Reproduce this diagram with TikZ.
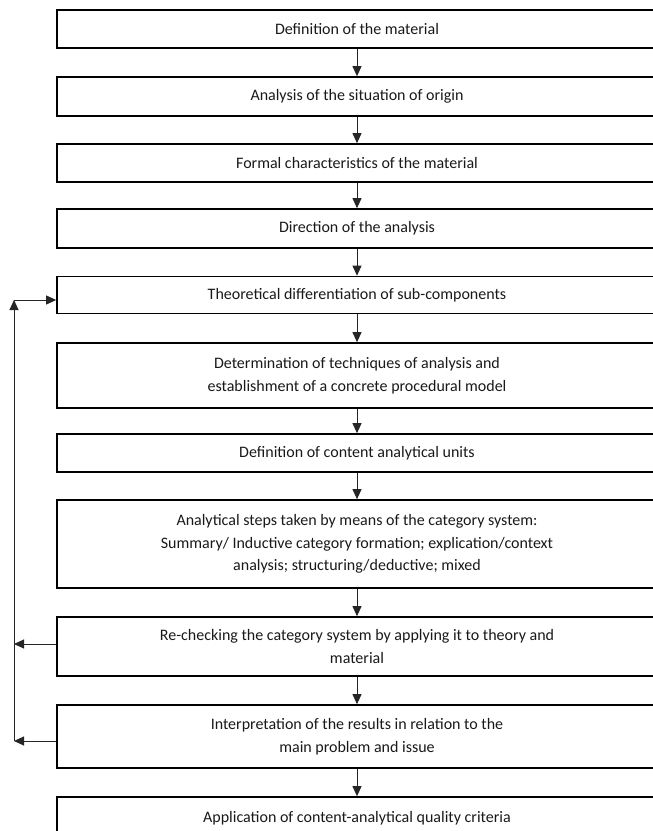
\documentclass[tikz,border=0pt]{standalone}
\usepackage{fontspec}
\setmainfont{Carlito}
\usetikzlibrary{arrows.meta}
\begin{document}
\begin{tikzpicture}[x=1pt,y=-1pt,
  box/.style={draw=black, line width=1.7pt, minimum width=600pt, align=center,
    inner sep=0pt, text=black!90, font=\fontsize{16}{22.5}\selectfont},
  arr/.style={draw=black!85, line width=1pt, -{Triangle[length=10pt,width=9pt]}},
  ln/.style={draw=black!85, line width=1pt}]
\useasboundingbox (0,0) rectangle (653,831);
\clip (0,0) rectangle (653,831);
\node[box, minimum height=38pt] (b1) at (357,29) {Definition of the material};
\node[box, minimum height=39pt] (b2) at (357,96.5) {Analysis of the situation of origin};
\node[box, minimum height=38pt] (b3) at (357,163) {Formal characteristics of the material};
\node[box, minimum height=39pt] (b4) at (357,228.5) {Direction of the analysis};
\node[box, minimum height=37pt] (b5) at (357,295) {Theoretical differentiation of sub-components};
\node[box, minimum height=65pt] (b6) at (357,375.5) {Determination of techniques of analysis and\\establishment of a concrete procedural model};
\node[box, minimum height=38pt] (b7) at (357,453) {Definition of content analytical units};
\node[box, minimum height=88pt] (b8) at (357,544) {Analytical steps taken by means of the category system:\\Summary/ Inductive category formation; explication/context\\analysis; structuring/deductive; mixed};
\node[box, minimum height=59pt] (b9) at (357,646.5) {Re-checking the category system by applying it to theory and\\material};
\node[box, minimum height=63pt] (b10) at (357,736.5) {Interpretation of the results in relation to the\\main problem and issue};
\node[box, minimum height=40pt, text depth=0pt] (b11) at (357,817) {Application of content-analytical quality criteria};
\foreach \a/\b in {b1/b2,b2/b3,b3/b4,b4/b5,b5/b6,b6/b7,b7/b8,b8/b9,b9/b10,b10/b11}
  \draw[arr] (\a.south) -- (\b.north);
\coordinate (ftop) at (14,300);
\coordinate (fmid) at (14,644);
\coordinate (fbot) at (14,741);
\draw[arr] (b9.west |- fmid) -- (fmid);
\draw[arr] (b10.west |- fbot) -- (fbot);
\draw[arr] (fbot) -- (ftop);
\draw[arr] (ftop) -- (ftop -| b5.west);
\end{tikzpicture}
\end{document}
